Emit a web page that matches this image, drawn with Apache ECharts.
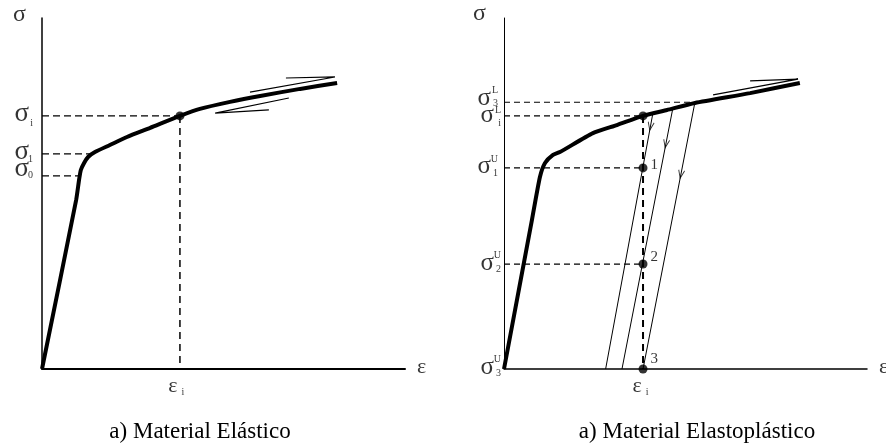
<!DOCTYPE html>
<html><head><meta charset="utf-8">
<script src="https://cdn.jsdelivr.net/npm/echarts@6/dist/echarts.min.js"></script>
<style>html,body{margin:0;padding:0;background:#fff}#c{width:886px;height:444px}</style>
</head><body><div id="c"></div><script>
// ---------- data (arbitrary units: strain 0-100, stress 0-100) ----------
const leftCurveX = [0, 9.4, 10.2, 10.7, 11.6, 12.7, 14.6, 18.7, 23.4, 29.8, 38.0, 43.5, 51.8, 60.1, 71.1, 81.3];
const leftCurveY = [0, 48.1, 53.8, 56.7, 58.7, 60.4, 61.8, 63.8, 66.1, 68.7, 72.1, 74.1, 76.1, 77.8, 79.8, 81.5];
const leftLevelNames = ['0', '1', 'i'];
const leftLevels = [55.0, 61.3, 72.1];
const leftLevelEnds = [10.0, 13.2, 38.0];
const leftStrainI = 38.0;
const leftArrowUpX = [57.3, 80.7, 67.2];
const leftArrowUpY = [78.9, 83.2, 82.9];
const leftArrowDownX = [68.0, 47.7, 62.5];
const leftArrowDownY = [77.2, 72.9, 73.8];

const rightCurveX = [0, 7.7, 9.9, 11.3, 13.5, 15.4, 24.5, 31.1, 38.3, 44.9, 52.6, 67.8, 81.5];
const rightCurveY = [0, 42.5, 54.7, 58.7, 61.0, 61.8, 67.2, 69.5, 72.1, 73.8, 75.8, 78.6, 81.5];
const rightLevelSup = ['L', 'L', 'U', 'U', 'U'];
const rightLevelSub = ['3', 'i', '1', '2', '3'];
const rightLevels = [76.0, 72.1, 57.3, 29.9, 0];
const rightLevelEnds = [52.6, 38.3, 38.3, 38.3, 0];
const rightStrainI = 38.3;
const pointNames = ['1', '2', '3'];
const pointStress = [57.3, 29.9, 0];
const unloadStartX = [41.0, 46.5, 52.6];
const unloadStartY = [72.8, 74.2, 76.0];
const unloadEndX = [28.0, 32.5, 38.3];
const unloadArrowT = [0.05, 0.135, 0.27];
const rightArrowX = [57.6, 81.0, 67.8];
const rightArrowY = [78.1, 82.6, 82.1];

const titles = ['a) Material Elástico', 'a) Material Elastoplástico'];

// ---------- helpers ----------
const SERIF = "'Liberation Serif','Times New Roman',serif";
const GW = 363, GH = 351;
const pairs = (xs, ys) => xs.map((x, i) => [x, ys[i]]);
const K = '#000';

function seg(g, pts, width, type) {
  return { type: 'line', xAxisIndex: g, yAxisIndex: g, data: pts, symbol: 'none', silent: true,
    lineStyle: { color: K, width: width, type: type || 'solid' }, z: 2, animation: false };
}
function lbl(x, y, text, size, pos, dist, off) {
  return { value: [x, y], label: { show: true, formatter: text, position: pos, distance: dist, offset: off,
    fontFamily: SERIF, fontSize: size, color: K } };
}

const series = [];
// ---- left panel ----
series.push(Object.assign(seg(0, pairs(leftCurveX, leftCurveY), 4), { smooth: 0.2, z: 4 }));
leftLevels.forEach((v, i) => series.push(seg(0, [[0, v], [leftLevelEnds[i], v]], 1.3, [7, 4])));
series.push(seg(0, [[leftStrainI, leftLevels[2]], [leftStrainI, 0]], 1.5, [7, 5]));
series.push(seg(0, pairs(leftArrowUpX, leftArrowUpY), 1.2));
series.push(seg(0, pairs(leftArrowDownX, leftArrowDownY), 1.2));
series.push({ type: 'scatter', xAxisIndex: 0, yAxisIndex: 0, symbolSize: 9, itemStyle: { color: K },
  data: [[leftStrainI, leftLevels[2]]], z: 5, animation: false });
const leftLabels = [];
leftLabels.push(lbl(0, 100, 'σ', 24, 'left', 16, [0, -3]));
leftLabels.push(lbl(100, 0, 'ε', 22, 'right', 12, [0, -2]));
leftLabels.push(lbl(leftStrainI, 0, 'ε', 22, 'bottom', 6, [-7, 0]));
leftLabels.push(lbl(leftStrainI, 0, 'i', 10, 'bottom', 18, [3, 0]));
const leftSubOff = [[0, -1], [0, 6], [0, 7]];
const leftSigOff = [[0, -7], [0, -2], [0, -2]];
leftLevels.forEach((v, i) => {
  leftLabels.push(lbl(0, v, 'σ', 27, 'left', 13, leftSigOff[i]));
  leftLabels.push(lbl(0, v, leftLevelNames[i], 10, 'left', 9, leftSubOff[i]));
});
series.push({ type: 'scatter', xAxisIndex: 0, yAxisIndex: 0, symbolSize: 0, data: leftLabels, silent: true, animation: false });

// ---- right panel ----
series.push(Object.assign(seg(1, pairs(rightCurveX, rightCurveY), 4), { smooth: 0.2, z: 4 }));
rightLevels.forEach((v, i) => { if (rightLevelEnds[i] > 0) series.push(seg(1, [[0, v], [rightLevelEnds[i], v]], 1.2, [6, 4])); });
series.push(seg(1, [[rightStrainI, rightLevels[1]], [rightStrainI, 0]], 2, [7, 5]));
unloadStartX.forEach((x, i) => series.push(seg(1, [[x, unloadStartY[i]], [unloadEndX[i], 0]], 1)));
series.push(seg(1, pairs(rightArrowX, rightArrowY), 1.2));
// arrowheads along unloading lines
const heads = unloadStartX.map((x, i) => {
  const t = unloadArrowT[i];
  const px = x + (unloadEndX[i] - x) * t, py = unloadStartY[i] * (1 - t);
  const dx = (unloadEndX[i] - x) * GW / 100, dy = unloadStartY[i] * GH / 100;
  return { value: [px, py], symbolRotate: Math.atan2(dx, dy) * 180 / Math.PI };
});
series.push({ type: 'scatter', xAxisIndex: 1, yAxisIndex: 1, symbol: 'path://M0,0L4,10L8,0', symbolSize: [6, 8],
  itemStyle: { color: 'rgba(0,0,0,0)', borderColor: K, borderWidth: 1 }, data: heads, z: 3, animation: false });
const pts = [{ value: [rightStrainI, rightLevels[1]] }].concat(pointStress.map((v, i) => ({
  value: [rightStrainI, v], label: { show: true, formatter: pointNames[i], position: 'right', distance: 3,
    offset: [0, [-3, -7, -10][i]], fontFamily: SERIF, fontSize: 15, color: K } })));
series.push({ type: 'scatter', xAxisIndex: 1, yAxisIndex: 1, symbolSize: 9, itemStyle: { color: K }, data: pts, z: 5, animation: false });
const rightLabels = [];
rightLabels.push(lbl(0, 100, 'σ', 24, 'left', 18, [0, -4]));
rightLabels.push(lbl(100, 0, 'ε', 22, 'right', 12, [0, -2]));
rightLabels.push(lbl(rightStrainI, 0, 'ε', 22, 'bottom', 6, [-6, 0]));
rightLabels.push(lbl(rightStrainI, 0, 'i', 10, 'bottom', 18, [4, 0]));
const rSigOff = [-4, 0, -1, -1, -2];
const rSupOff = [-12, -6, -9, -9, -10];
const rSubOff = [1, 7, 5, 5, 4];
const rSigDist = [13, 10, 13, 10, 10];
rightLevels.forEach((v, i) => {
  rightLabels.push(lbl(0, v, 'σ', 25, 'left', rSigDist[i], [0, rSigOff[i]]));
  rightLabels.push(lbl(0, v, rightLevelSup[i], 10, 'left', rSigDist[i] - 7, [0, rSupOff[i]]));
  rightLabels.push(lbl(0, v, rightLevelSub[i], 10, 'left', rSigDist[i] - 7, [0, rSubOff[i]]));
});
series.push({ type: 'scatter', xAxisIndex: 1, yAxisIndex: 1, symbolSize: 0, data: rightLabels, silent: true, animation: false });

function xAx(g, w) {
  return { gridIndex: g, type: 'value', min: 0, max: 100, axisLine: { show: true, onZero: false, lineStyle: { color: K, width: w } },
    axisTick: { show: false }, axisLabel: { show: false }, splitLine: { show: false } };
}

const chart = echarts.init(document.getElementById('c'));
chart.setOption({
  animation: false,
  backgroundColor: '#fff',
  grid: [{ left: 42, top: 18, width: GW, height: GH }, { left: 504, top: 18, width: GW, height: GH }],
  xAxis: [xAx(0, 2), xAx(1, 1.5)],
  yAxis: [xAx(0, 1.5), xAx(1, 1)],
  series: series,
  graphic: [
    { type: 'text', x: 200, y: 432, style: { text: titles[0], fill: K, font: "23px " + SERIF, textAlign: 'center', textVerticalAlign: 'middle' } },
    { type: 'text', x: 697, y: 432, style: { text: titles[1], fill: K, font: "23px " + SERIF, textAlign: 'center', textVerticalAlign: 'middle' } }
  ]
});
</script></body></html>
